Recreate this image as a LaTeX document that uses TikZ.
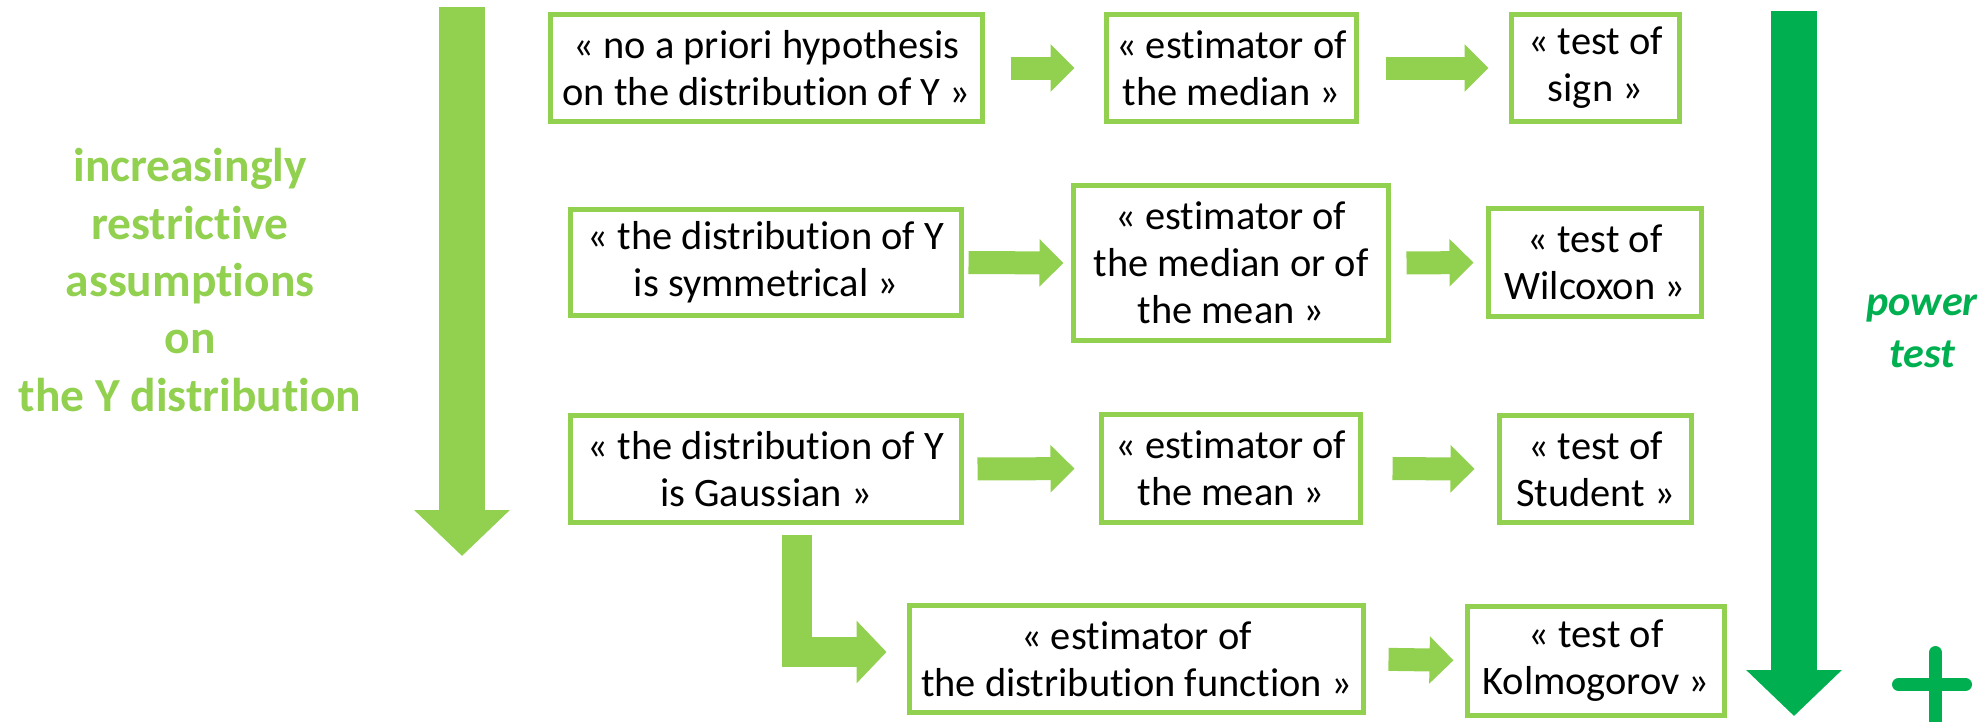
\documentclass[tikz,border=0pt]{standalone}
\usepackage{fontspec}
\setmainfont{Carlito}[Ligatures=NoCommon]
\usetikzlibrary{arrows.meta}
\definecolor{boxgreen}{HTML}{92D050}
\definecolor{powergreen}{HTML}{00B050}
\tikzset{
  box/.style={draw=boxgreen, line width=0.05cm, align=center, inner sep=0pt,
    font=\fontsize{11.5}{13.4}\selectfont},
  flow/.style={boxgreen, line width=0.23cm, -{Triangle[length=0.24cm,width=0.46cm]}},
  bigarrow/.style={line width=0.46cm, -{Triangle[length=0.46cm,width=0.93cm]}},
}
\begin{document}
\begin{tikzpicture}
\useasboundingbox (0,0) rectangle (19.84,-7.21);
\node[boxgreen, font=\bfseries\fontsize{13.5}{16.3}\selectfont, align=center] (assume) at (1.9,-2.8)
  {increasingly\\restrictive\\assumptions\\on\\the Y distribution};
\coordinate (restop) at (4.62,-0.07);
\coordinate (resbot) at (4.62,-5.56);
\draw[bigarrow, boxgreen] (restop) -- (resbot);
\node[box, minimum width=4.32cm, minimum height=1.07cm] (hypno) at (7.665,-0.68)
  {« no a priori hypothesis\\on the distribution of Y »};
\node[box, minimum width=2.50cm, minimum height=1.07cm] (estmed) at (12.315,-0.68)
  {« estimator of\\the median »};
\node[box, minimum width=1.68cm, minimum height=1.07cm] (testsign) at (15.955,-0.68)
  {« test of\\sign »};
\node[box, minimum width=3.91cm, minimum height=1.06cm] (hypsym) at (7.66,-2.625)
  {« the distribution of Y\\is symmetrical »};
\node[box, minimum width=3.15cm, minimum height=1.55cm] (estmedmean) at (12.31,-2.63)
  {« estimator of\\the median or of\\the mean »};
\node[box, minimum width=2.13cm, minimum height=1.08cm] (testwil) at (15.95,-2.625)
  {« test of\\Wilcoxon »};
\node[box, minimum width=3.91cm, minimum height=1.07cm] (hypgauss) at (7.66,-4.69)
  {« the distribution of Y\\is Gaussian »};
\node[box, minimum width=2.59cm, minimum height=1.08cm] (estmean) at (12.31,-4.685)
  {« estimator of\\the mean »};
\node[box, minimum width=1.92cm, minimum height=1.07cm] (teststu) at (15.955,-4.69)
  {« test of\\Student »};
\node[box, minimum width=4.54cm, minimum height=1.07cm] (estdist) at (11.365,-6.59)
  {« estimator of\\the distribution function »};
\node[box, minimum width=2.57cm, minimum height=1.09cm] (testkol) at (15.96,-6.605)
  {« test of\\Kolmogorov »};
\draw[flow, shorten <=0.255cm, shorten >=0.295cm] (hypno.east) -- (estmed.west);
\draw[flow, shorten <=0.265cm, shorten >=0.205cm] (estmed.east) -- (testsign.west);
\draw[flow, shorten <=0.045cm, shorten >=0.075cm] (hypsym.east) -- (estmedmean.west);
\draw[flow, shorten <=0.155cm, shorten >=0.125cm] (estmedmean.east) -- (testwil.west);
\draw[flow, shorten <=0.135cm, shorten >=0.245cm] (hypgauss.east) -- (estmean.west);
\draw[flow, shorten <=0.295cm, shorten >=0.225cm] (estmean.east) -- (teststu.west);
\draw[flow, shorten <=0.225cm, shorten >=0.115cm] (estdist.east) -- (testkol.west);
\draw[flow, line width=0.30cm, line join=miter, -{Triangle[length=0.30cm,width=0.61cm]},
  shorten <=0.095cm, shorten >=0.205cm]
  ([xshift=0.305cm]hypgauss.south) |- ([yshift=0.07cm]estdist.west);
\coordinate (powtop) at (17.94,-0.11);
\coordinate (powbot) at (17.94,-7.16);
\draw[bigarrow, powergreen] (powtop) -- (powbot);
\node[powergreen, font=\bfseries\itshape\fontsize{12}{14.8}\selectfont, align=center] (power) at (19.22,-3.31)
  {power\\test};
\draw[powergreen, line width=0.13cm, line cap=round] (18.985,-6.845) -- (19.655,-6.845);
\draw[powergreen, line width=0.13cm, line cap=round] (19.355,-6.525) -- (19.355,-7.4);
\end{tikzpicture}
\end{document}
